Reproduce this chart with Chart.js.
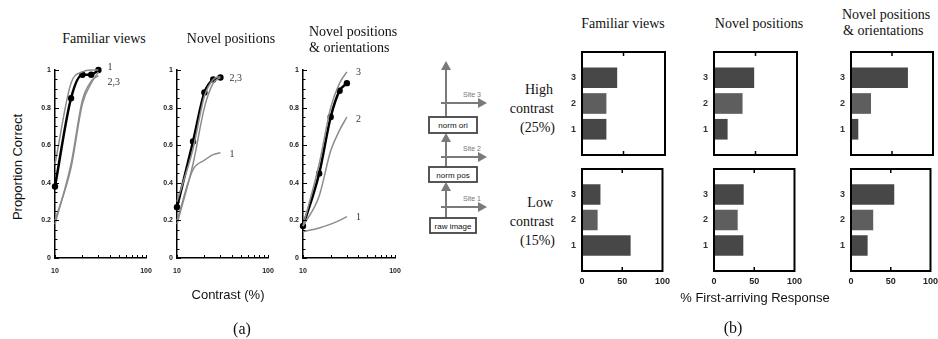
<!DOCTYPE html>
<html>
<head>
<meta charset="utf-8">
<script src="https://cdn.jsdelivr.net/npm/chart.js"></script>
<style>
  body { margin: 0; background: #fff; }
  #page { position: relative; width: 938px; height: 339px; overflow: hidden; }
  canvas, .txt { position: absolute; }
  .txt { white-space: nowrap; color: #111; }
  .serif { font-family: 'Liberation Serif', 'DejaVu Serif', serif; font-size: 14px; }
  .sans { font-family: 'Liberation Sans', Arial, sans-serif; font-size: 13px; }
  .big { font-size: 16px; }
</style>
</head>
<body>
<div id="page">
  <svg width="938" height="339" style="position:absolute;left:0;top:0">
    <g stroke="#7a7a7a" stroke-width="2" fill="none">
      <line x1="446" y1="218" x2="446" y2="189"/>
      <line x1="446" y1="167" x2="446" y2="140"/>
      <line x1="446" y1="117" x2="446" y2="68"/>
      <line x1="441" y1="207" x2="480" y2="207"/>
      <line x1="441" y1="157" x2="480" y2="157"/>
      <line x1="441" y1="103" x2="480" y2="103"/>
    </g>
    <g fill="#7a7a7a">
      <polygon points="446,182 441,191 451,191"/>
      <polygon points="446,133 441,142 451,142"/>
      <polygon points="446,61 441,70 451,70"/>
      <polygon points="487,207 478,202 478,212"/>
      <polygon points="487,157 478,152 478,162"/>
      <polygon points="487,103 478,98 478,108"/>
    </g>
    <g font-family="Liberation Sans, Arial, sans-serif" font-size="7" fill="#777">
      <text x="463" y="201">Site 1</text>
      <text x="463" y="151">Site 2</text>
      <text x="463" y="97">Site 3</text>
    </g>
    <g fill="#fff" stroke="#444" stroke-width="1.8">
      <rect x="429" y="117" width="48" height="16"/>
      <rect x="429" y="167" width="48" height="15"/>
      <rect x="430" y="218" width="46" height="15"/>
    </g>
    <g font-family="Liberation Sans, Arial, sans-serif" font-size="8" fill="#111" text-anchor="middle">
      <text x="453" y="128">norm ori</text>
      <text x="453" y="177.5">norm pos</text>
      <text x="453" y="228.5">raw image</text>
    </g>
  </svg>
</div>
<script>
// contrast levels tested (%)
const contrast = [10, 15, 20, 25, 30];
const xTicks = [10, 20, 30, 40, 50, 60, 70, 80, 90, 100];

// proportion correct - familiar views
const famData = [0.38, 0.85, 0.975, 0.975, 1.0];
const famSite1 = [0.5, 0.93, 0.99, 1.0, 1.0];
const famSite2 = [0.18, 0.5, 0.84, 0.94, 0.97];
const famSite3 = [0.2, 0.48, 0.82, 0.93, 0.99];

// proportion correct - novel positions
const posData = [0.27, 0.62, 0.88, 0.95, 0.96];
const posSite1 = [0.2, 0.47, 0.52, 0.55, 0.56];
const posSite2 = [0.18, 0.5, 0.8, 0.93, 0.96];
const posSite3 = [0.3, 0.58, 0.86, 0.95, 0.965];

// proportion correct - novel positions & orientations
const oriData = [0.17, 0.45, 0.75, 0.89, 0.93];
const oriSite1 = [0.14, 0.16, 0.18, 0.2, 0.22];
const oriSite2 = [0.17, 0.33, 0.57, 0.68, 0.75];
const oriSite3 = [0.17, 0.5, 0.8, 0.93, 0.99];

// % first-arriving response, rows are sites 3, 2, 1
const siteLabels = ['3', '2', '1'];
const barTicks = [0, 50, 100];
const highFam = [42, 29, 29];
const highPos = [48, 34, 16];
const highOri = [69, 24, 8.5];
const lowFam = [22.5, 19, 60];
const lowPos = [36.5, 29, 36];
const lowOri = [54, 27.5, 20.5];
const rowColors = ['#474747', '#5e5e5e', '#474747'];

const page = document.getElementById('page');

function makeCanvas(left, top, w, h) {
    const cv = document.createElement('canvas');
    cv.width = w;
    cv.height = h;
    cv.style.left = left + 'px';
    cv.style.top = top + 'px';
    page.appendChild(cv);
    return cv;
}

function addText(str, x, y, cls, anchor) {
    const d = document.createElement('div');
    d.className = 'txt ' + cls;
    d.textContent = str;
    d.style.left = x + 'px';
    d.style.top = y + 'px';
    if (anchor === 'left') d.style.transform = 'translate(0,-50%)';
    else if (anchor === 'right') d.style.transform = 'translate(-100%,-50%)';
    else d.style.transform = 'translate(-50%,-50%)';
    page.appendChild(d);
    return d;
}

//labels written next to the last point of a curve
const endLabels = {
    id: 'endLabels',
    afterDatasetsDraw(chart) {
        const ctx = chart.ctx;
        chart.data.datasets.forEach((ds, i) => {
            if (!ds.endLabel) return;
            const pts = chart.getDatasetMeta(i).data;
            const p = pts[pts.length - 1];
            ctx.save();
            ctx.font = '10px "Liberation Serif"';
            ctx.fillStyle = '#333';
            ctx.textBaseline = 'middle';
            ctx.fillText(ds.endLabel, p.x + 9, p.y + (ds.labelDy || 0));
            ctx.restore();
        });
    }
};

//tick marks pointing into the plot
const innerTicks = {
    id: 'innerTicks',
    afterDraw(chart) {
        const ctx = chart.ctx, a = chart.chartArea;
        const x = chart.scales.x, y = chart.scales.y;
        ctx.save();
        ctx.strokeStyle = '#000';
        ctx.lineWidth = 1;
        ctx.beginPath();
        for (let k = 0; k <= 20; k++) {
            const py = Math.round(y.getPixelForValue(k / 20)) + 0.5;
            const len = k % 4 === 0 ? 4 : 2.5;
            ctx.moveTo(a.left, py);
            ctx.lineTo(a.left + len, py);
        }
        xTicks.forEach(v => {
            const px = Math.round(x.getPixelForValue(v)) + 0.5;
            ctx.moveTo(px, a.bottom);
            ctx.lineTo(px, a.bottom - 3);
        });
        ctx.stroke();
        ctx.restore();
    }
};

//box round each bar panel
const frameBox = {
    id: 'frameBox',
    afterDraw(chart) {
        const ctx = chart.ctx, a = chart.chartArea;
        const mid = chart.scales.x.getPixelForValue(50);
        ctx.save();
        ctx.strokeStyle = '#000';
        ctx.lineWidth = 2;
        ctx.strokeRect(a.left, a.top, a.right - a.left, a.bottom - a.top);
        ctx.lineWidth = 1.5;
        ctx.beginPath();
        ctx.moveTo(mid, a.top);
        ctx.lineTo(mid, a.top + 4);
        ctx.moveTo(mid, a.bottom);
        ctx.lineTo(mid, a.bottom - 4);
        ctx.stroke();
        ctx.restore();
    }
};

const tickFont = { family: 'Liberation Sans', size: 7, weight: 'bold' };

function lineChart(axisX, plotW, sets) {
    const cv = makeCanvas(axisX - 30, 60, plotW + 60, 222);
    new Chart(cv, {
        type: 'line',
        data: {
            datasets: sets.map(s => ({
                data: s.data.map((v, i) => ({ x: contrast[i], y: v })),
                borderColor: s.color,
                borderWidth: s.width,
                pointRadius: s.dots ? 3.2 : 0,
                pointBackgroundColor: '#000',
                pointBorderWidth: 0,
                cubicInterpolationMode: 'monotone',
                clip: false,
                endLabel: s.label,
                labelDy: s.dy
            }))
        },
        options: {
            responsive: false,
            animation: false,
            layout: { padding: { top: 10, right: 30, left: 0, bottom: 0 } },
            plugins: { legend: { display: false }, tooltip: { enabled: false } },
            scales: {
                x: {
                    type: 'logarithmic',
                    min: 10,
                    max: 100,
                    afterBuildTicks: s => { s.ticks = xTicks.map(v => ({ value: v })); },
                    afterFit: s => { s.height = 24; },
                    grid: { display: true, drawOnChartArea: false, drawTicks: false },
                    border: { display: true, color: '#000', width: 1.5 },
                    ticks: {
                        autoSkip: false, maxRotation: 0, padding: 9, color: '#222', font: tickFont,
                        callback: v => (v === 10 || v === 100) ? String(v) : ''
                    }
                },
                y: {
                    min: 0,
                    max: 1,
                    afterFit: s => { s.width = 30; },
                    grid: { display: true, drawOnChartArea: false, drawTicks: false },
                    border: { display: true, color: '#000', width: 1.5 },
                    ticks: {
                        stepSize: 0.2, padding: 4, color: '#222', font: tickFont,
                        callback: v => v === 0 ? '0' : v === 1 ? '1' : v.toFixed(1)
                    }
                }
            }
        },
        plugins: [innerTicks, endLabels]
    });
}

function barChart(left, top, w, h, values, bottom) {
    const cv = makeCanvas(left - 20, top - 7, w + 30, h + 7 + (bottom ? 22 : 7));
    new Chart(cv, {
        type: 'bar',
        data: {
            labels: [''].concat(siteLabels, ['']),
            datasets: [{
                data: [null].concat(values, [null]),
                backgroundColor: ['#000'].concat(rowColors, ['#000']),
                barThickness: 20
            }]
        },
        options: {
            indexAxis: 'y',
            responsive: false,
            animation: false,
            layout: { padding: { top: 7, right: 10, left: 0, bottom: bottom ? 0 : 7 } },
            plugins: { legend: { display: false }, tooltip: { enabled: false } },
            scales: {
                x: {
                    min: 0,
                    max: 100,
                    afterBuildTicks: s => { s.ticks = barTicks.map(v => ({ value: v })); },
                    afterFit: s => { s.height = bottom ? 22 : 0; },
                    grid: { display: false, drawTicks: false },
                    border: { display: false },
                    ticks: { display: bottom, padding: 5, maxRotation: 0, autoSkip: false, color: '#222', font: { family: 'Liberation Sans', size: 9, weight: 'bold' } }
                },
                y: {
                    offset: false,
                    afterFit: s => { s.width = 20; },
                    grid: { display: true, drawOnChartArea: false, drawTicks: true, tickLength: 6, color: 'rgba(0,0,0,0)' },
                    border: { display: false },
                    ticks: { autoSkip: false, padding: 0, color: '#333', font: { family: 'Liberation Sans', size: 9, weight: 'bold' } }
                }
            }
        },
        plugins: [frameBox]
    });
}

// panel (a)
lineChart(55, 91, [
    { data: famSite1, color: '#8c8c8c', width: 1.5, label: '1', dy: -3 },
    { data: famSite2, color: '#8c8c8c', width: 1.5 },
    { data: famSite3, color: '#8c8c8c', width: 1.5, label: '2,3', dy: 10 },
    { data: famData, color: '#000', width: 2.5, dots: true }
]);
lineChart(177, 91, [
    { data: posSite1, color: '#8c8c8c', width: 1.5, label: '1', dy: 2 },
    { data: posSite2, color: '#8c8c8c', width: 1.5 },
    { data: posSite3, color: '#8c8c8c', width: 1.5 },
    { data: posData, color: '#000', width: 2.5, dots: true, label: '2,3', dy: 1 }
]);
lineChart(303, 92, [
    { data: oriSite1, color: '#8c8c8c', width: 1.5, label: '1', dy: 1 },
    { data: oriSite2, color: '#8c8c8c', width: 1.5, label: '2', dy: 2 },
    { data: oriSite3, color: '#8c8c8c', width: 1.5, label: '3', dy: 0 },
    { data: oriData, color: '#000', width: 2.5, dots: true }
]);

// panel (b)
barChart(582, 52, 83, 103, highFam, false);
barChart(714, 52, 83, 103, highPos, false);
barChart(851, 52, 82, 103, highOri, false);
barChart(582, 169, 83, 102, lowFam, true);
barChart(714, 169, 83, 102, lowPos, true);
barChart(851, 169, 82, 102, lowOri, true);

// titles and axis names
addText('Familiar views', 104, 39, 'serif');
addText('Novel positions', 231, 39, 'serif');
addText('Novel positions', 309, 32, 'serif', 'left');
addText('& orientations', 309, 48, 'serif', 'left');
addText('Familiar views', 623, 24, 'serif');
addText('Novel positions', 759, 24, 'serif');
addText('Novel positions', 842, 15, 'serif', 'left');
addText('& orientations', 843, 31, 'serif', 'left');

addText('High', 553, 90, 'serif', 'right');
addText('contrast', 554, 109, 'serif', 'right');
addText('(25%)', 555, 128, 'serif', 'right');
addText('Low', 553, 203, 'serif', 'right');
addText('contrast', 554, 222, 'serif', 'right');
addText('(15%)', 555, 241, 'serif', 'right');

const yName = addText('Proportion Correct', 17, 167, 'sans');
yName.style.transform = 'translate(-50%,-50%) rotate(-90deg)';
addText('Contrast (%)', 228, 294, 'sans');
addText('% First-arriving Response', 755, 297, 'sans');
addText('(a)', 242, 329, 'serif big');
addText('(b)', 733, 328, 'serif big');
</script>
</body>
</html>
